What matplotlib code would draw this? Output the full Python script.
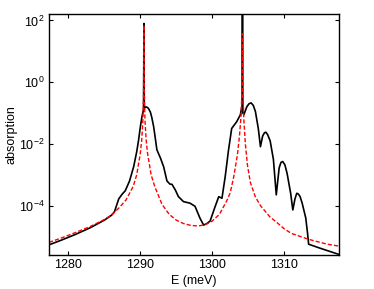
import numpy as np
import matplotlib
matplotlib.use("Agg")
import matplotlib.pyplot as plt
from matplotlib.ticker import FixedLocator, NullLocator

plt.rcParams['font.family'] = ['Liberation Sans', 'DejaVu Sans']
plt.rcParams['mathtext.fontset'] = 'custom'
plt.rcParams['mathtext.rm'] = 'Liberation Sans'
plt.rcParams['mathtext.it'] = 'Liberation Sans:italic'
plt.rcParams['mathtext.bf'] = 'Liberation Sans:bold'

# Black (full) spectrum: energies (meV) and log10(absorption)
E_black = [1277.3, 1279, 1281, 1283, 1285, 1286, 1286.4, 1287.0, 1287.5, 1287.9,
           1288.5, 1289.07, 1289.5, 1289.76, 1290.0, 1290.23, 1290.45, 1290.5,
           1290.55, 1290.8, 1291.0, 1291.15, 1291.4, 1291.6, 1291.85, 1292.1,
           1292.3, 1292.8, 1293.24, 1293.7, 1294.1, 1294.4, 1294.86, 1295.3,
           1296.0, 1296.9, 1297.6, 1298.3, 1298.8, 1299.25, 1299.7, 1300.4,
           1300.9, 1301.35, 1301.8, 1302.26, 1302.7, 1303.4, 1303.9, 1304.15,
           1304.2, 1304.25, 1304.4, 1304.8, 1305.1, 1305.4, 1305.7, 1306.0,
           1306.4, 1306.7, 1307.0, 1307.25, 1307.45, 1307.7, 1308.05, 1308.5,
           1308.9, 1309.3, 1309.55, 1309.8, 1310.1, 1310.4, 1310.9, 1311.2,
           1311.5, 1311.75, 1311.95, 1312.2, 1312.5, 1313.0, 1313.25, 1313.4,
           1315.0, 1317.6]
log_black = [-5.27, -5.12, -4.93, -4.72, -4.47, -4.31, -4.2, -3.78, -3.62, -3.52,
             -3.2, -2.74, -2.25, -1.87, -1.45, -1.11, -0.88, 1.9,
             -0.84, -0.8, -0.82, -0.86, -0.97, -1.15, -1.44, -1.85,
             -2.19, -2.46, -2.74, -3.2, -3.3, -3.31, -3.49, -3.71,
             -3.87, -3.92, -4.02, -4.41, -4.63, -4.58, -4.5, -4.03,
             -3.71, -3.76, -3.06, -2.2, -1.5, -1.28, -1.06, -0.75,
             3.0, -1.0, -1.05, -0.8, -0.7, -0.67, -0.75, -0.95,
             -1.5, -2.09, -1.75, -1.64, -1.62, -1.7, -1.9, -2.5,
             -3.65, -2.78, -2.6, -2.57, -2.68, -2.95, -3.6, -4.14,
             -3.78, -3.6, -3.62, -3.7, -3.92, -4.4, -4.9, -5.25,
             -5.38, -5.58]

# Red dashed (model) spectrum
E_red = [1277.3, 1279, 1281, 1283, 1285, 1286, 1287, 1288, 1289, 1289.5,
         1290.0, 1290.2, 1290.35, 1290.45, 1290.5, 1290.55, 1290.65, 1290.8,
         1291.0, 1291.5, 1292, 1293, 1294, 1295, 1296, 1297, 1298, 1299, 1300,
         1301, 1302, 1302.5, 1303, 1303.5, 1303.8, 1304.0, 1304.1, 1304.2,
         1304.3, 1304.4, 1304.6, 1304.9, 1305.3, 1306, 1306.7, 1308, 1309,
         1310, 1311, 1312, 1313, 1314, 1315, 1316, 1317.6]
log_red = [-5.19, -5.05, -4.87, -4.68, -4.45, -4.3, -4.08, -3.82, -3.38, -3.0,
           -2.3, -1.85, -1.25, -0.4, 1.85, -0.4, -1.25, -1.85,
           -2.3, -3.0, -3.38, -3.95, -4.28, -4.47, -4.58, -4.64, -4.66, -4.62, -4.5,
           -4.28, -3.85, -3.58, -3.05, -2.35, -1.7, -1.1, -0.5, 1.57,
           -0.6, -1.25, -2.0, -2.7, -3.25, -3.72, -4.0, -4.36, -4.55,
           -4.75, -4.9, -4.98, -5.06, -5.13, -5.19, -5.25, -5.31]

x_ticks = [1280, 1290, 1300, 1310]
y_ticks = [1e-4, 1e-2, 1e0, 1e2]
y_tick_labels = [r'$10^{-4}$', r'$10^{-2}$', r'$10^{0}$', r'$10^{2}$']

fig = plt.figure(figsize=(3.74, 2.89), dpi=100)
ax = fig.add_axes([0.131, 0.1176, 0.775, 0.834])

ax.plot(E_black, np.power(10.0, log_black), color='black', lw=1.2)
ax.plot(E_red, np.power(10.0, log_red), color='#ff0000', lw=1.0, ls=(0, (3, 1.5)))

ax.set_yscale('log')
ax.set_xlim(1277.3, 1317.6)
ax.set_ylim(10 ** -5.6, 10 ** 2.21)
ax.set_xticks(x_ticks)
ax.yaxis.set_major_locator(FixedLocator(y_ticks))
ax.yaxis.set_minor_locator(NullLocator())
ax.set_yticklabels(y_tick_labels)

ax.tick_params(direction='in', top=True, right=True, length=3, width=0.8,
               labelsize=9, pad=3)
for s in ax.spines.values():
    s.set_linewidth(1.0)

ax.set_xlabel('E (meV)', fontsize=9, labelpad=3)
ax.set_ylabel('absorption', fontsize=9, labelpad=1)

fig.savefig('out.png', dpi=100)
